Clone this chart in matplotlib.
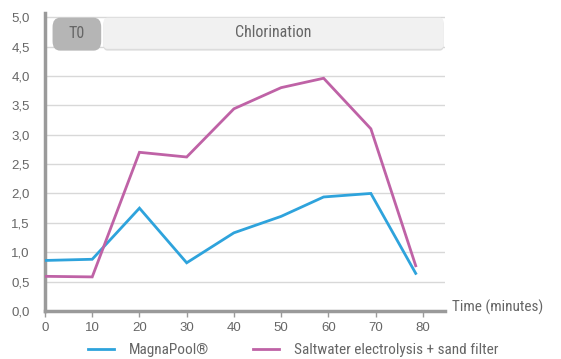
import matplotlib
matplotlib.use("Agg")
import matplotlib.pyplot as plt
from matplotlib.patches import FancyBboxPatch
from matplotlib import font_manager

time_min = [0, 10, 20, 30, 40, 50, 59, 69, 78.5]
magnapool = [0.86, 0.88, 1.75, 0.82, 1.33, 1.61, 1.94, 2.00, 0.64]
saltwater = [0.59, 0.58, 2.70, 2.62, 3.44, 3.80, 3.96, 3.10, 0.77]
series_labels = ["MagnaPool®", "Saltwater electrolysis + sand filter"]
x_ticks = [0, 10, 20, 30, 40, 50, 60, 70, 80]
y_ticks = [0.0, 0.5, 1.0, 1.5, 2.0, 2.5, 3.0, 3.5, 4.0, 4.5, 5.0]
phase_labels = ["T0", "Chlorination"]
x_label = "Time (minutes)"

avail = {f.name for f in font_manager.fontManager.ttflist}
cond = [f for f in ["Roboto Condensed", "Liberation Sans Narrow", "Roboto"] if f in avail]
tick_font = "Liberation Sans" if "Liberation Sans" in avail else "DejaVu Sans"

BLUE = "#2ea3dc"
MAG = "#bf62a6"
TXT = "#666666"
SPINE = "#9a9a9a"
GRID = "#d8d8d8"

fig = plt.figure(figsize=(5.61, 3.59), dpi=100)
ax = fig.add_axes([45/561, 1-311/359, (445-45)/561, (311-13)/359])
ax.set_xlim(0, 84.7)
ax.set_ylim(0, 5.07)

for y in y_ticks[1:]:
    ax.axhline(y, color=GRID, lw=1.0, zorder=0)

l1, = ax.plot(time_min, magnapool, color=BLUE, lw=2.0, solid_joinstyle="miter", zorder=3)
l2, = ax.plot(time_min, saltwater, color=MAG, lw=2.0, solid_joinstyle="miter", zorder=3)

for s in ["top", "right"]:
    ax.spines[s].set_visible(False)
ax.spines["left"].set_color(SPINE)
ax.spines["left"].set_linewidth(2.5)
ax.spines["bottom"].set_color(SPINE)
ax.spines["bottom"].set_linewidth(2.5)

ax.set_xticks(x_ticks)
ax.set_xticklabels([str(v) for v in x_ticks], fontsize=9.5, color=TXT, family=tick_font)
ax.set_yticks(y_ticks)
ax.set_yticklabels([f"{v:.1f}".replace(".", ",") for v in y_ticks], fontsize=9.5, color=TXT, family=tick_font)
ax.tick_params(axis="x", length=4, width=1, color=SPINE, pad=4)
ax.tick_params(axis="y", length=0, pad=11)

# phase bands
y0, y1 = 4.46, 4.99
shadow = FancyBboxPatch((12.4, y0 - 0.03), 84.4 - 12.4, y1 - y0, boxstyle="round,pad=0,rounding_size=0.8",
                        fc="#dcdcdc", ec="none", zorder=1, mutation_aspect=0.1, clip_on=False)
ax.add_patch(shadow)
chl = FancyBboxPatch((12.4, y0), 84.4 - 12.4, y1 - y0, boxstyle="round,pad=0,rounding_size=0.8",
                     fc="#f1f1f1", ec="none", zorder=2, mutation_aspect=0.1, clip_on=False)
ax.add_patch(chl)
t0 = FancyBboxPatch((1.6, 4.43), 11.9 - 1.6, 4.99 - 4.43, boxstyle="round,pad=0,rounding_size=1.6",
                    fc="#b5b5b5", ec="none", zorder=2, mutation_aspect=0.1, clip_on=False)
ax.add_patch(t0)
ax.text((1.6 + 11.9) / 2, 4.72, phase_labels[0], ha="center", va="center", fontsize=11.5, color=TXT, family=cond, zorder=4)
ax.text((12.4 + 84.4) / 2, 4.73, phase_labels[1], ha="center", va="center", fontsize=11.5, color=TXT, family=cond, zorder=4)

ax.text(86.2, 0.07, x_label, ha="left", va="center", fontsize=11, color=TXT, family=cond, clip_on=False)

leg = fig.legend([l1, l2], series_labels, loc="center", bbox_to_anchor=(0.523, 0.025), ncol=2,
                 frameon=False, handlelength=1.65, columnspacing=2.9, handletextpad=1.0,
                 prop={"family": cond, "size": 11})
for t in leg.get_texts():
    t.set_color(TXT)

fig.savefig("out.png", dpi=100)
